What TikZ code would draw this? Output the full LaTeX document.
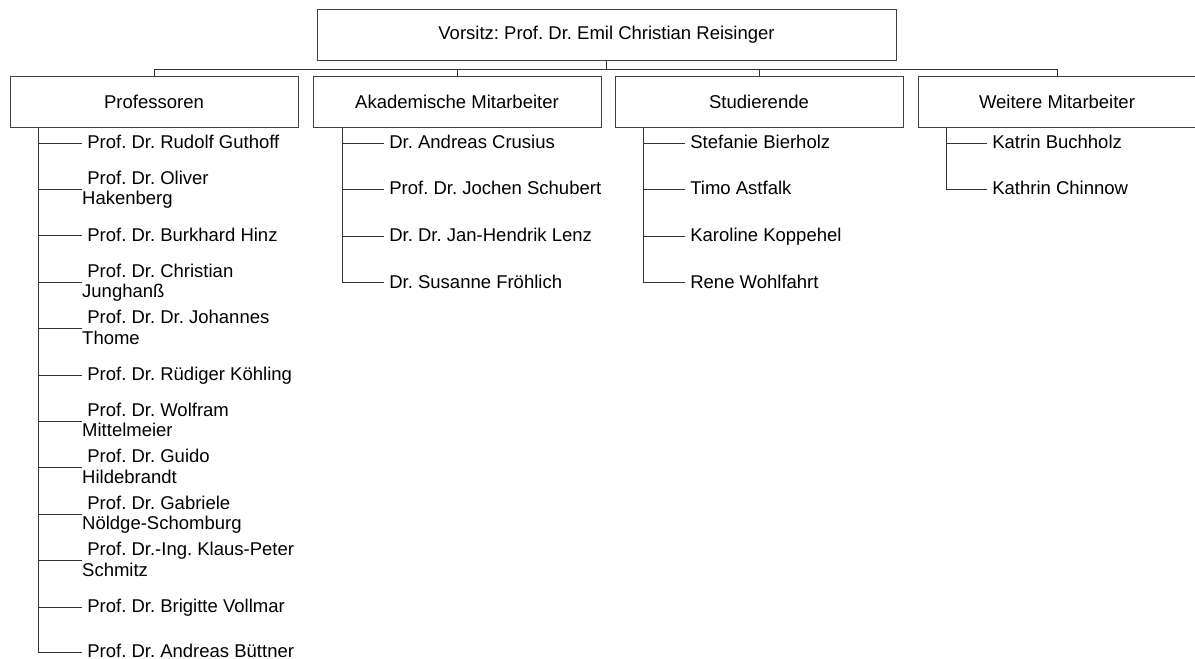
\documentclass[tikz,border=0pt]{standalone}
\usepackage{fontspec}
\setmainfont{Liberation Sans}
\usetikzlibrary{positioning,calc}
\frenchspacing
\newcommand{\orgfont}{\fontsize{18.5}{19}\selectfont}
\newcommand{\orgstrut}{\rule[-4.5pt]{0pt}{19.5pt}}
\tikzset{
  unit/.style={draw=black!75, line width=1pt, minimum height=50.5pt,
               inner sep=0pt, font=\orgfont},
  chair/.style={unit, minimum width=579pt},
  group/.style={unit, minimum width=288pt},
  member/.style={anchor=west, inner sep=0pt, align=left, font=\orgfont},
  link/.style={draw=black!80, line width=1pt}
}

\begin{document}
\begin{tikzpicture}[x=1pt, y=-1pt]
    \useasboundingbox (0,0) rectangle (1195,659);
    % Vorsitz und Gruppen
    \node[chair] (chair) at (606.5,35) {Vorsitz: Prof. Dr. Emil Christian Reisinger};
    \node[group] (prof) at (154,102) {Professoren};
    \node[group, right=14pt of prof] (akad) {Akademische Mitarbeiter};
    \node[group, right=13pt of akad] (stud) {Studierende};
    \node[group, minimum width=278pt, right=14pt of stud] (weit) {Weitere Mitarbeiter};
    \coordinate (bus) at ($(chair.south)+(0,8.5)$);
    \draw[link] (chair.south) -- (bus);
    \draw[link] (prof.north) |- (bus) -| (weit.north);
    \draw[link] (akad.north) -- (akad.north |- bus);
    \draw[link] (stud.north) -- (stud.north |- bus);
    % Professoren
    \coordinate (profspine) at ($(prof.south west)+(29,0)$);
    \node[member] (p1) at (82,143) {\orgstrut\ Prof. Dr. Rudolf Guthoff};
    \node[member] (p2) at (82,189.4) {\orgstrut\ Prof. Dr. Oliver\\\orgstrut Hakenberg};
    \node[member] (p3) at (82,235.8) {\orgstrut\ Prof. Dr. Burkhard Hinz};
    \node[member] (p4) at (82,282.2) {\orgstrut\ Prof. Dr. Christian\\\orgstrut Junghanß};
    \node[member] (p5) at (82,328.6) {\orgstrut\ Prof. Dr. Dr. Johannes\\\orgstrut Thome};
    \node[member] (p6) at (82,375) {\orgstrut\ Prof. Dr. Rüdiger Köhling};
    \node[member] (p7) at (82,421.4) {\orgstrut\ Prof. Dr. Wolfram\\\orgstrut Mittelmeier};
    \node[member] (p8) at (82,467.8) {\orgstrut\ Prof. Dr. Guido\\\orgstrut Hildebrandt};
    \node[member] (p9) at (82,514.2) {\orgstrut\ Prof. Dr. Gabriele\\\orgstrut Nöldge-Schomburg};
    \node[member] (p10) at (82,560.6) {\orgstrut\ Prof. Dr.-Ing. Klaus-Peter\\\orgstrut Schmitz};
    \node[member] (p11) at (82,607) {\orgstrut\ Prof. Dr. Brigitte Vollmar};
    \node[member] (p12) at (82,652) {\orgstrut\ Prof. Dr. Andreas Büttner};
    \draw[link] (profspine) |- (p12.west);
    \foreach \i in {1,...,11} \draw[link] (profspine |- p\i.west) -- (p\i.west);
    % Akademische Mitarbeiter
    \coordinate (akadspine) at ($(akad.south west)+(30,0)$);
    \node[member] (a1) at (384,143) {\orgstrut\ Dr. Andreas Crusius};
    \node[member] (a2) at (384,189.6) {\orgstrut\ Prof. Dr. Jochen Schubert};
    \node[member] (a3) at (384,236.2) {\orgstrut\ Dr. Dr. Jan-Hendrik Lenz};
    \node[member] (a4) at (384,282.8) {\orgstrut\ Dr. Susanne Fröhlich};
    \draw[link] (akadspine) |- (a4.west);
    \foreach \i in {1,2,3} \draw[link] (akadspine |- a\i.west) -- (a\i.west);
    % Studierende
    \coordinate (studspine) at ($(stud.south west)+(29,0)$);
    \node[member] (s1) at (685,143) {\orgstrut\ Stefanie Bierholz};
    \node[member] (s2) at (685,189.6) {\orgstrut\ Timo Astfalk};
    \node[member] (s3) at (685,236.2) {\orgstrut\ Karoline Koppehel};
    \node[member] (s4) at (685,282.8) {\orgstrut\ Rene Wohlfahrt};
    \draw[link] (studspine) |- (s4.west);
    \foreach \i in {1,2,3} \draw[link] (studspine |- s\i.west) -- (s\i.west);
    % Weitere Mitarbeiter
    \coordinate (weitspine) at ($(weit.south west)+(29,0)$);
    \node[member] (w1) at (987,143) {\orgstrut\ Katrin Buchholz};
    \node[member] (w2) at (987,189.6) {\orgstrut\ Kathrin Chinnow};
    \draw[link] (weitspine) |- (w2.west);
    \draw[link] (weitspine |- w1.west) -- (w1.west);
  \end{tikzpicture}
\end{document}
